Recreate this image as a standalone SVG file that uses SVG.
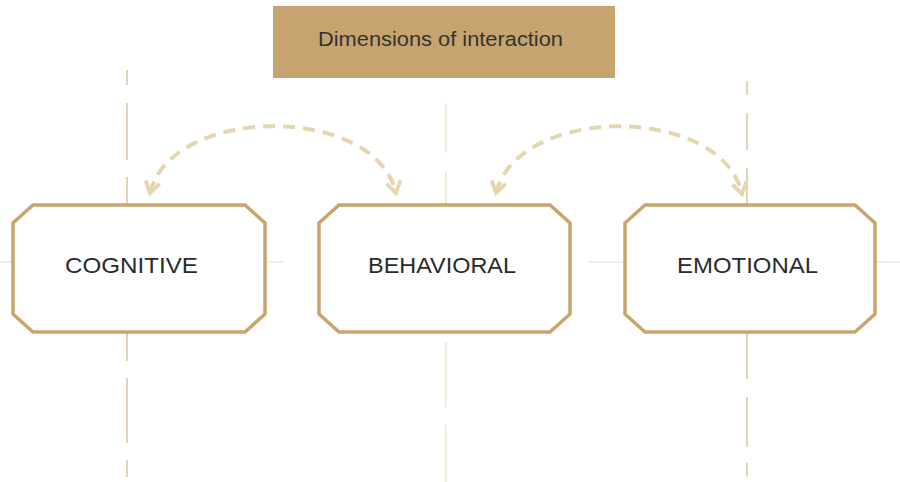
<svg xmlns="http://www.w3.org/2000/svg" width="900" height="482" viewBox="0 0 900 482">
<style>
.guide{stroke:#DCC49E;stroke-width:1.5;fill:none}
.guide2{stroke:#EFE3CE;stroke-width:1.5;fill:none}
.hguide{stroke:#F3EAD9;stroke-width:1.5;fill:none}
.node{fill:#FFFFFF;stroke:#C9A46D;stroke-width:3.5}
.lbl{font-family:"Liberation Sans",Arial,sans-serif;font-size:22px;fill:#2b2b2b;text-anchor:start}
.title{font-family:"Liberation Sans",Arial,sans-serif;font-size:20px;fill:#333333}
.arc{fill:none;stroke:#E6D5B1;stroke-width:4;stroke-dasharray:12 8;marker-start:url(#chev);marker-end:url(#chev)}
</style>
<defs>
<marker id="chev" viewBox="0 0 12 12" refX="9" refY="6" markerWidth="4.8" markerHeight="4.8" orient="auto-start-reverse" markerUnits="strokeWidth">
<path d="M2 1.5 L9 6 L2 10.5" fill="none" stroke="#E6D5B1" stroke-width="2.4"/>
</marker>
</defs>
<rect width="900" height="482" fill="#FFFFFF"/>
<g id="guides">
<line class="guide" x1="127" y1="70" x2="127" y2="85"/>
<line class="guide" x1="127" y1="103" x2="127" y2="160"/>
<line class="guide" x1="127" y1="177" x2="127" y2="205"/>
<line class="guide" x1="127" y1="332" x2="127" y2="361"/>
<line class="guide" x1="127" y1="378" x2="127" y2="443"/>
<line class="guide" x1="127" y1="460" x2="127" y2="477"/>
<line class="guide2" x1="446" y1="103" x2="446" y2="153"/>
<line class="guide2" x1="446" y1="171" x2="446" y2="205"/>
<line class="guide2" x1="446" y1="342" x2="446" y2="407"/>
<line class="guide2" x1="446" y1="425" x2="446" y2="482"/>
<line class="guide" x1="747" y1="81" x2="747" y2="95"/>
<line class="guide" x1="747" y1="113" x2="747" y2="150"/>
<line class="guide" x1="747" y1="168" x2="747" y2="205"/>
<line class="guide" x1="747" y1="332" x2="747" y2="379"/>
<line class="guide" x1="747" y1="397" x2="747" y2="447"/>
<line class="guide" x1="747" y1="463" x2="747" y2="476"/>
<line class="hguide" x1="0" y1="262" x2="13" y2="262"/>
<line class="hguide" x1="265" y1="262" x2="283" y2="262"/>
<line class="hguide" x1="589" y1="262" x2="625" y2="262"/>
<line class="hguide" x1="875" y1="262" x2="900" y2="262"/>
</g>
<g id="title">
<rect x="273" y="6" width="342" height="72" fill="#C6A36F"/>
<text class="title" x="318" y="46" textLength="245" lengthAdjust="spacingAndGlyphs">Dimensions of interaction</text>
</g>
<g id="connectors">
<path class="arc" d="M150 193 C172 104 376 104 396 193"/>
<path class="arc" d="M496 193 C518 104 722 104 742 194"/>
</g>
<g id="cognitive">
<polygon class="node" points="33,205 245,205 265,223 265,314 245,332 33,332 13,314 13,223"/>
<text class="lbl" x="65" y="273" textLength="133" lengthAdjust="spacingAndGlyphs">COGNITIVE</text>
</g>
<g id="behavioral">
<polygon class="node" points="339,205 550,205 570,223 570,314 550,332 339,332 319,314 319,223"/>
<text class="lbl" x="368" y="273" textLength="148" lengthAdjust="spacingAndGlyphs">BEHAVIORAL</text>
</g>
<g id="emotional">
<polygon class="node" points="645,205 855,205 875,223 875,314 855,332 645,332 625,314 625,223"/>
<text class="lbl" x="677" y="273" textLength="141" lengthAdjust="spacingAndGlyphs">EMOTIONAL</text>
</g>
</svg>
